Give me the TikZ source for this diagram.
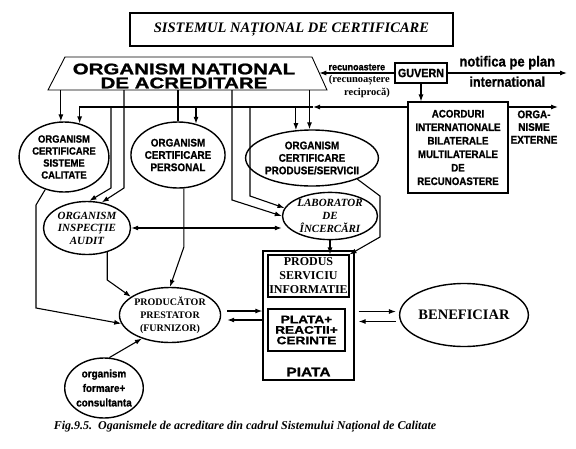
\documentclass[tikz,border=0pt]{standalone}
\usepackage{fontspec}
\setmainfont{Liberation Serif}
\setsansfont{Liberation Sans}
\newfontfamily\heavyfont[FakeStretch=1.24,FakeBold=1]{Liberation Sans Bold}
\newfontfamily\widefont[FakeStretch=1.32,FakeBold=1.2]{Liberation Sans Bold}
\newfontfamily\blackfont[FakeStretch=0.9,FakeBold=1]{Liberation Sans Bold}
\usetikzlibrary{arrows.meta,calc,positioning,shapes.geometric}

\begin{document}
\begin{tikzpicture}[
      x=1pt,y=-1pt,
      ell/.style={ellipse,draw,line width=1.4pt,inner sep=0pt,align=center},
      box/.style={rectangle,draw,line width=1.1pt,inner sep=0pt,align=center},
      arr/.style={-{Latex[length=7pt,width=5pt]},line width=1.1pt},
      dblarr/.style={{Latex[length=7pt,width=5pt]}-{Latex[length=7pt,width=5pt]},line width=1.1pt},
      plain/.style={line width=1.1pt},
      sansb/.style 2 args={font=\blackfont\fontsize{#1}{#2}\selectfont},
      serifbi/.style 2 args={font=\bfseries\itshape\fontsize{#1}{#2}\selectfont}
    ]
      \useasboundingbox (0,0) rectangle (576,448);
      % title and accreditation body
      \node[box,line width=1.6pt,minimum width=323,minimum height=33,
        font=\bfseries\itshape\fontsize{14.5}{16}\selectfont] (title) at (291.5,29.5)
        {SISTEMUL NAȚIONAL DE CERTIFICARE};
      \draw[line width=0.9pt] (65,57) -- (312,57) -- (327,90) -- (48,90) -- cycle;
      \node[align=center,inner sep=0pt,font=\widefont\fontsize{15.5}{14}\selectfont] (ona) at (184,76)
        {ORGANISM NATIONAL\\DE ACREDITARE};
      \coordinate (onab) at (188,90);
      \coordinate (onaR) at (319.3,73);

      % government and agreements
      \node[box,minimum width=52,minimum height=20,sansb={12}{13}] (guv) at (421,73) {GUVERN};
      \node[box,minimum width=100,minimum height=91,sansb={10.8}{13.5}] (acord) at (458,147.5)
        {ACORDURI\\INTERNATIONALE\\BILATERALE\\MULTILATERALE\\DE\\RECUNOASTERE};
      \coordinate (ext) at (558,107);
      \coordinate (notif) at (567,73);
      \coordinate (bus) at (79.2,107);
      \coordinate (busA) at (313,107);

      % certification bodies
      \node[ell,minimum width=85,minimum height=70,sansb={10.5}{12}] (ocsc) at (64,157)
        {ORGANISM\\CERTIFICARE\\SISTEME\\CALITATE};
      \node[ell,minimum width=80,minimum height=66,sansb={11}{12.3}] (ocp) at (178,155)
        {ORGANISM\\CERTIFICARE\\PERSONAL};
      \node[ell,minimum width=118,minimum height=56,sansb={11}{12.5}] (ocps) at (312,158)
        {ORGANISM\\CERTIFICARE\\PRODUSE/SERVICII};
      \node[ell,minimum width=87,minimum height=53,serifbi={11}{12.5}] (insp) at (87,228)
        {ORGANISM\\INSPECȚIE\\AUDIT};
      \node[ell,minimum width=95,minimum height=46,serifbi={11}{13}] (lab) at (330,216)
        {LABORATOR\\DE\\ÎNCERCĂRI};
      \node[ell,minimum width=96,minimum height=55,font=\bfseries\fontsize{10}{13}\selectfont] (prod) at (170,315)
        {PRODUCĂTOR\\PRESTATOR\\(FURNIZOR)};
      \node[ell,minimum width=68,minimum height=60,sansb={11}{14.5}] (form) at (104,388)
        {organism\\formare+\\consultanta};
      \node[ell,minimum width=104,minimum height=63,font=\bfseries\fontsize{14.5}{16}\selectfont] (ben) at (464,315)
        {BENEFICIAR};

      % market
      \node[box,line width=1.3pt,minimum width=91,minimum height=129] (piata) at (308.5,315.5) {};
      \node[box,minimum width=81,minimum height=42,font=\bfseries\fontsize{12}{14}\selectfont] (psi) at (308.5,276)
        {PRODUS\\SERVICIU\\INFORMATIE};
      \node[box,minimum width=77,minimum height=42,font=\heavyfont\fontsize{11}{10.5}\selectfont] (plata) at (306.5,330)
        {PLATA+\\REACTII+\\CERINTE};
      \node[inner sep=0pt,font=\heavyfont\fontsize{12.5}{13}\selectfont] (piatalbl) at (308.5,372) {PIATA};

      % links from the top
      \draw[arr] (guv.west) -- (onaR)
        node[midway,above=2pt,inner sep=0pt,sansb={10}{11}] {recunoastere};
      \node[anchor=north east,align=right,inner sep=0pt,font=\bfseries\fontsize{10.5}{13}\selectfont] (recip) at (390,75)
        {(recunoaștere\\reciprocă)};
      \draw[arr] (guv.east) -- (notif)
        node[midway,above=3pt,inner sep=0pt,sansb={14.5}{15}] {notifica pe plan}
        node[midway,below=3pt,inner sep=0pt,sansb={14}{15}] {international};
      \draw[arr] (guv.south) -- (guv.south |- acord.north);
      \draw[arr] (acord.east |- bus) -- (ext);
      \node[align=center,inner sep=0pt,sansb={11}{12.7}] (orgext) at (534,127)
        {ORGA-\\NISME\\EXTERNE};
      \draw[arr] (acord.west |- bus) -- (busA);
      \draw[plain] (busA) -- (bus);

      \draw[arr] (ocsc.95 |- onab) -- (ocsc.95);
      \draw[arr] (ocsc.65 |- bus) -- (ocsc.65);
      \draw[arr] (111,0 |- bus) -- (111,188) -- (insp.85);
      \draw[arr] (124,0 |- onab) -- (124,188) -- (insp.60);
      \draw[plain] (ocp.north |- onab) -- (ocp.north);
      \draw[arr] (ocp.60 |- bus) -- (ocp.60);
      \draw[arr] (232,0 |- onab) -- (232,200) -- (lab.180);
      \draw[arr] (250,0 |- bus) -- (250,196) -- (lab.170);
      \draw[arr] (ocps.95 |- onab) -- (ocps.95);
      \draw[arr] (ocps.120 |- bus) -- (ocps.120);

      % middle links
      \draw[dblarr] (insp.east) -- (insp.east -| lab.west);
      \draw[arr] (ocsc.240) -- (36,205) -- (36,308) -- (prod.190);
      \draw[arr] (insp.310) -- (insp.310 |- 0,280) -- (prod.155);
      \draw[arr] (ocp.280) -- (ocp.280 |- 0,247) -- (prod.north);
      \draw[arr] (form.80) -- (prod.220);
      \draw[arr] (lab.south) -- (lab.south |- psi.north);
      \draw[arr] (ocps.335) -- (380,196) -- (380,237) -- (psi.north east);

      % exchanges with the market
      \coordinate (m1) at ($(prod.east)+(6,-4)$);
      \coordinate (m2) at ($(prod.east)+(6,5)$);
      \draw[arr] (m1) -- (m1 -| piata.west);
      \draw[arr] (m2 -| piata.west) -- (m2);
      \coordinate (b1) at ($(piata.east)+(4,-4)$);
      \coordinate (b2) at ($(piata.east)+(4,6)$);
      \draw[arr,shorten >=3pt] (b1) -- (b1 -| ben.west);
      \draw[arr,shorten <=3pt] (b2 -| ben.west) -- (b2);

      \node[inner sep=0pt,font=\bfseries\itshape\fontsize{12}{14}\selectfont] (caption) at (245,427)
        {Fig.9.5.\ \ Oganismele de acreditare din cadrul Sistemului Național de Calitate};
    \end{tikzpicture}
\end{document}
